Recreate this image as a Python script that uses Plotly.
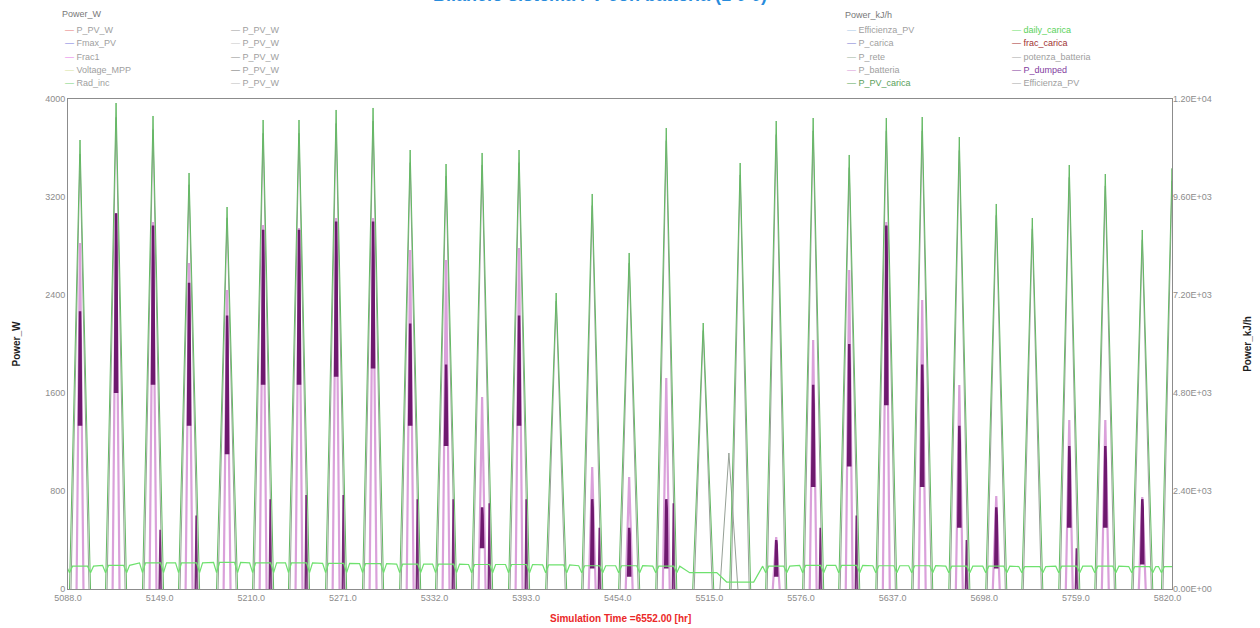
import plotly.graph_objects as go

# ---------------- data ----------------
x_tick_vals = [5088.0, 5149.0, 5210.0, 5271.0, 5332.0, 5393.0, 5454.0,
               5515.0, 5576.0, 5637.0, 5698.0, 5759.0, 5820.0]
x_tick_text = ["5088.0", "5149.0", "5210.0", "5271.0", "5332.0", "5393.0", "5454.0",
               "5515.0", "5576.0", "5637.0", "5698.0", "5759.0", "5820.0"]
y_left_ticks = [0, 800, 1600, 2400, 3200, 4000]
y_right_ticks = [0, 2400, 4800, 7200, 9600, 12000]

# hour of each daily peak
day_t = [5096.0, 5120.0, 5144.6, 5168.6, 5193.9, 5217.9, 5241.8, 5266.5, 5291.1, 5315.8,
         5339.7, 5363.7, 5388.3, 5413.0, 5437.0, 5461.6, 5486.3, 5510.9, 5535.5, 5559.5,
         5584.1, 5608.1, 5632.8, 5656.7, 5681.4, 5706.0, 5730.0, 5754.6, 5778.6, 5803.2,
         5823.0]
# P_PV_carica daily peak [kJ/h]
pv_carica = [10996, 11902, 11584, 10188, 9355, 11486, 11486, 11731, 11780, 10751,
             10408, 10678, 10751, 7249, 9674, 8229, 11290, 6514, 10433, 11461,
             11535, 10629, 11535, 11559, 11069, 9429, 9086, 10384, 10163, 8792,
             10300]
# P_PV_W (grey) daily peak [W]
p_pv_w = [3550, 3850, 3750, 3300, 3030, 3720, 3720, 3800, 3820, 3480,
          3370, 3460, 3480, 2350, 3130, 2660, 3660, 2110, 3380, 3710,
          3740, 3440, 3740, 3740, 3580, 3050, 2940, 3360, 3290, 2850,
          3330]
extra_grey_t = [5528.0]
extra_grey_w = [1110]
# P_batteria daily peak [kJ/h]
p_batteria = [8474, 9208, 8988, 7984, 7323, 8914, 8841, 9086, 9086, 8302,
              8057, 4702, 8351, 0, 2988, 2743, 5167, 0, 0, 1273,
              6098, 7812, 8988, 7078, 4996, 2278, 0, 4139, 4139, 2253,
              0]
# P_dumped band (top / bottom of the dark band) [kJ/h]
p_dumped_top = [6800, 9200, 8900, 7500, 6700, 8800, 8800, 9000, 9000, 6500,
                5500, 2000, 6700, 0, 2200, 1500, 2200, 0, 0, 1200,
                5000, 6000, 8900, 5500, 4000, 2000, 0, 3500, 3500, 2200,
                0]
p_dumped_low = [4000, 4800, 5000, 4000, 3300, 5000, 5000, 5200, 5400, 4000,
                3500, 1000, 4000, 0, 500, 300, 500, 0, 0, 300,
                2500, 3000, 4500, 2500, 1500, 500, 0, 1500, 1500, 600,
                0]
# late-afternoon secondary P_dumped spike [kJ/h]
p_dumped_late = [0, 0, 1450, 1800, 0, 2200, 2300, 2300, 0, 2200,
                 2200, 2100, 2200, 0, 1500, 0, 2100, 0, 0, 0,
                 1500, 1800, 0, 0, 1200, 0, 0, 1000, 0, 0,
                 0]
# daily_carica level [kJ/h]
daily_carica = [560, 580, 640, 640, 650, 640, 640, 630, 620, 610,
                610, 600, 600, 590, 570, 570, 560, 400, 170, 560,
                580, 580, 570, 570, 560, 560, 550, 560, 560, 550,
                550]
daily_carica_dip = 400

PV_HALF = 7.0      # hours from sunrise to peak
GREY_HALF = 6.0
BAT_HALF = 2.3

# ---------------- build polylines ----------------
def spikes(ts, vals, half):
    xs, ys = [], []
    for t, v in zip(ts, vals):
        if v <= 0:
            continue
        xs += [t - half, t, t + half, None]
        ys += [0, v, 0, None]
    return xs, ys

gx, gy = spikes(day_t, pv_carica, PV_HALF)
rx, ry = spikes(day_t + extra_grey_t, p_pv_w + extra_grey_w, GREY_HALF)
bx, by = spikes(day_t, p_batteria, BAT_HALF)

dx, dy = [], []
for t, top, low in zip(day_t, p_dumped_top, p_dumped_low):
    if top <= 0:
        continue
    dx += [t - 0.7, t - 0.3, t, t + 0.3, t + 0.7, None]
    dy += [low, top * 0.93, top, top * 0.9, low, None]
lx, ly = spikes([t + 4.7 for t in day_t], p_dumped_late, 0.6)

cx, cy = [], []
for t, lvl in zip(day_t, daily_carica):
    cx += [t - 9, t - 7, t - 5, t + 5, t + 7, t + 9]
    cy += [lvl, min(lvl, daily_carica_dip), lvl, lvl, min(lvl, daily_carica_dip), lvl]

fig = go.Figure()
fig.add_trace(go.Scatter(x=gx, y=gy, mode="lines", yaxis="y2", name="P_PV_carica",
                         line=dict(color="rgb(100,185,100)", width=1)))
fig.add_trace(go.Scatter(x=rx, y=ry, mode="lines", name="P_PV_W",
                         line=dict(color="rgb(150,160,150)", width=1)))
fig.add_trace(go.Scatter(x=bx, y=by, mode="lines", yaxis="y2", name="P_batteria",
                         line=dict(color="rgb(218,160,218)", width=2.2)))
fig.add_trace(go.Scatter(x=dx, y=dy, mode="lines", yaxis="y2", name="P_dumped",
                         line=dict(color="rgb(110,25,110)", width=2.5)))
fig.add_trace(go.Scatter(x=lx, y=ly, mode="lines", yaxis="y2", name="P_dumped late",
                         line=dict(color="rgb(120,40,120)", width=1.5)))
fig.add_trace(go.Scatter(x=cx, y=cy, mode="lines", yaxis="y2", name="daily_carica",
                         line=dict(color="rgb(110,225,110)", width=1.2)))

# ---------------- layout ----------------
L, R, T, B = 68, 88, 99, 39
W, H = 1260, 628
PW, PH = W - L - R, H - T - B

def pxx(px):
    return (px - L) / PW

def pxy(py):
    return (H - B - py) / PH

font_family = "Liberation Sans, Arial, sans-serif"
annotations = []

# title (cut at the top edge, as in the reference)
annotations.append(dict(
    text="<b>Bilancio sistema FV con batteria (1 0 0)</b>", x=pxx(600), y=pxy(7),
    xref="paper", yref="paper", xanchor="center", yanchor="bottom", showarrow=False,
    font=dict(family=font_family, size=18, color="rgb(40,140,220)")))

# x title
annotations.append(dict(
    text="<b>Simulation Time =6552.00 [hr]</b>", x=pxx(620), y=pxy(618),
    xref="paper", yref="paper", xanchor="center", yanchor="middle", showarrow=False,
    font=dict(family=font_family, size=10, color="rgb(235,40,40)")))

legend_left_title = "Power_W"
legend_left_col1 = [("P_PV_W", "rgb(230,120,120)"), ("Fmax_PV", "rgb(120,120,220)"),
                    ("Frac1", "rgb(230,120,230)"), ("Voltage_MPP", "rgb(215,225,160)"),
                    ("Rad_inc", "rgb(120,210,120)")]
legend_left_col2 = [("P_PV_W", "rgb(160,160,160)"), ("P_PV_W", "rgb(200,200,200)"),
                    ("P_PV_W", "rgb(140,140,140)"), ("P_PV_W", "rgb(110,110,110)"),
                    ("P_PV_W", "rgb(190,190,190)")]
legend_right_title = "Power_kJ/h"
legend_right_col1 = [("Efficienza_PV", "rgb(170,200,230)", "rgb(160,160,160)"),
                     ("P_carica", "rgb(120,120,210)", "rgb(160,160,160)"),
                     ("P_rete", "rgb(160,180,160)", "rgb(160,160,160)"),
                     ("P_batteria", "rgb(215,150,215)", "rgb(160,160,160)"),
                     ("P_PV_carica", "rgb(90,170,90)", "rgb(90,160,90)")]
legend_right_col2 = [("daily_carica", "rgb(110,225,110)", "rgb(90,210,90)"),
                     ("frac_carica", "rgb(170,50,50)", "rgb(160,50,50)"),
                     ("potenza_batteria", "rgb(170,170,170)", "rgb(160,160,160)"),
                     ("P_dumped", "rgb(130,60,160)", "rgb(130,60,160)"),
                     ("Efficienza_PV", "rgb(170,170,170)", "rgb(160,160,160)")]
rows = [30, 43, 57, 70, 83]

def leg(text, x, y, color=None, txtcolor="rgb(160,160,160)"):
    s = text if color is None else f'<span style="color:{color}">—</span> {text}'
    annotations.append(dict(text=s, x=pxx(x), y=pxy(y), xref="paper", yref="paper",
                            xanchor="left", yanchor="middle", showarrow=False,
                            font=dict(family=font_family, size=9, color=txtcolor)))

leg(legend_left_title, 60, 14, txtcolor="rgb(120,120,120)")
for (n, c), y in zip(legend_left_col1, rows):
    leg(n, 63, y, c)
for (n, c), y in zip(legend_left_col2, rows):
    leg(n, 229, y, c)
leg(legend_right_title, 843, 15, txtcolor="rgb(120,120,120)")
for (n, c, tc), y in zip(legend_right_col1, rows):
    leg(n, 845, y, c, tc)
for (n, c, tc), y in zip(legend_right_col2, rows):
    leg(n, 1010, y, c, tc)

tickfont = dict(family=font_family, size=9, color="rgb(140,140,140)")
fig.update_layout(
    width=W, height=H,
    margin=dict(l=L, r=R, t=T, b=B, autoexpand=False),
    paper_bgcolor="white", plot_bgcolor="white",
    showlegend=False,
    annotations=annotations,
    xaxis=dict(range=[5088, 5823], tickvals=x_tick_vals, ticktext=x_tick_text,
               showgrid=False, zeroline=False, showline=True, mirror=True,
               linecolor="rgb(140,140,140)", linewidth=1, ticks="",
               tickfont=tickfont, automargin=False),
    yaxis=dict(range=[0, 4000], tickvals=y_left_ticks,
               ticktext=[str(v) for v in y_left_ticks],
               showgrid=False, zeroline=False, showline=True, mirror=True,
               linecolor="rgb(140,140,140)", linewidth=1, ticks="",
               tickfont=tickfont, automargin=False,
               title=dict(text="<b>Power_W</b>", standoff=22,
                          font=dict(family=font_family, size=10, color="rgb(30,30,30)"))),
    yaxis2=dict(range=[0, 12000], tickvals=y_right_ticks,
                ticktext=[f"{v:.2E}" for v in y_right_ticks],
                overlaying="y", side="right", showgrid=False, zeroline=False,
                showline=False, ticks="", tickfont=tickfont, automargin=False,
                title=dict(text="<b>Power_kJ/h</b>", standoff=33,
                           font=dict(family=font_family, size=10, color="rgb(30,30,30)"))),
)

fig.write_html("out.html",
               config={"displayModeBar": False},
               post_script="document.body.style.margin='0';document.body.style.overflow='hidden';")
